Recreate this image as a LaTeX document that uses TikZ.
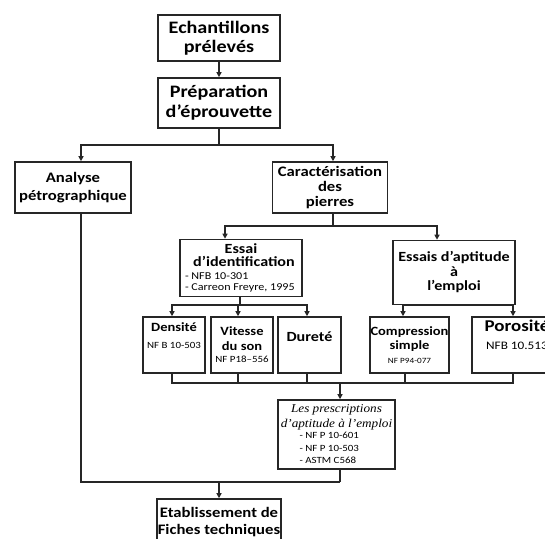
\documentclass[tikz,border=0pt]{standalone}
\usepackage{fontspec}
\setmainfont{Carlito}[FakeStretch=1.15]
\newfontfamily\tnr{Liberation Serif}[FakeStretch=1.1]
\usetikzlibrary{arrows.meta}
\begin{document}
\begin{tikzpicture}[x=1pt,y=-1pt,
  box/.style={draw=black!85, line width=1.6pt, rectangle, inner sep=0pt, align=center},
  con/.style={draw=black!85, line width=1.2pt},
  arr/.style={con, -{Triangle[width=5pt,length=5pt]}},
  fs/.style n args={2}{font=\fontsize{#1}{#2}\selectfont\bfseries},
]
\useasboundingbox (0,0) rectangle (545,538);

\node[box, minimum width=122pt, minimum height=46pt, fs={17.5}{19}] (n1) at (219,38)
  {Echantillons\\prélevés};
\node[box, minimum width=122pt, minimum height=50pt, fs={17.5}{20}] (n2) at (219,103)
  {Préparation\\d’éprouvette};
\node[box, minimum width=116pt, minimum height=51pt, fs={14.5}{18}] (ana) at (73,187.5)
  {Analyse\\pétrographique};
\node[box, minimum width=115pt, minimum height=51pt, fs={14.5}{15}] (car) at (330,187.5)
  {Caractérisation\\des\\pierres};
\node[box, minimum width=122pt, minimum height=57pt, fs={14}{13}] (ess) at (241,268)
  {Essai\\
   \hspace*{6pt}d’identification\\
   {\fontsize{10.5}{10.5}\selectfont\mdseries\makebox[112pt][l]{- NFB 10-301}}\\[-2.5pt]
   {\fontsize{10.5}{10.5}\selectfont\mdseries\makebox[112pt][l]{- Carreon Freyre, 1995}}};
\node[box, minimum width=122pt, minimum height=64pt, fs={14}{14.5}] (apt) at (454,272.5)
  {Essais d’aptitude\\à\\l’emploi};

\node[box, minimum width=62pt, minimum height=56pt, fs={12.6}{15}] (den) at (174,345)
  {Densité\\[2pt] {\fontsize{9.5}{9.5}\selectfont\mdseries NF B 10-503}\\[4pt]};
\node[box, minimum width=62pt, minimum height=56pt, fs={12.6}{14.5}] (vit) at (242,345)
  {Vitesse\\du son\\[-2pt] {\fontsize{9.5}{9.5}\selectfont\mdseries NF P18–556}};
\node[box, minimum width=63pt, minimum height=56pt, fs={14}{15}] (dur) at (309.5,345)
  {Dureté\\[2pt]};
\node[box, minimum width=79pt, minimum height=56pt, fs={12.6}{14.5}] (com) at (409.5,345)
  {Compression\\simple\\[-1pt] {\fontsize{8}{8}\selectfont\mdseries NF P94-077}};
\node[box, minimum width=90pt, minimum height=56pt, fs={16.5}{17}] (por) at (517,345)
  {Porosité\\[1pt] {\fontsize{11.5}{11.5}\selectfont\mdseries NFB 10.513}\\[4pt]};

\node[box, minimum width=117pt, minimum height=69pt, font=\fontsize{12}{14.5}\selectfont\tnr\itshape] (pre) at (336.5,434.5)
  {Les prescriptions\\
   d’aptitude à l’emploi\\[-3pt]
   {\fontsize{9.5}{9.5}\selectfont\upshape\rmfamily\hspace*{-16pt}\makebox[58pt][l]{- NF P 10-601}}\\[-2pt]
   {\fontsize{9.5}{9.5}\selectfont\upshape\rmfamily\hspace*{-16pt}\makebox[58pt][l]{- NF P 10-503}}\\[-2pt]
   {\fontsize{9.5}{9.5}\selectfont\upshape\rmfamily\hspace*{-16pt}\makebox[58pt][l]{- ASTM C568}}};

\node[box, minimum width=124pt, minimum height=46pt, fs={14.5}{17}] (eta) at (219,522)
  {Etablissement de\\Fiches techniques};

% connectors
\draw[arr] (n1) -- (n2);
\coordinate (j1) at (219,145);
\draw[con] (n2.south) -- (j1);
\draw[arr] (j1) -| ([xshift=8pt]ana.north);
\draw[arr] (j1) -| ([xshift=3pt]car.north);

\coordinate (j2) at (333,226);
\draw[con] ([xshift=3pt]car.south) -- (j2);
\draw[arr] (j2) -| ([xshift=-16pt]ess.north);
\draw[arr] (j2) -| ([xshift=-17pt]apt.north);

\coordinate (j3) at (240,305);
\draw[con] ([xshift=-1pt]ess.south) -- (j3);
\draw[arr] (j3) -| ([xshift=-2pt]den.north);
\draw[arr] (j3) -| ([xshift=-4pt]vit.north);
\draw[arr] (j3) -| ([xshift=-2.5pt]dur.north);

\coordinate (j4) at (456,305);
\draw[con] ([xshift=2pt]apt.south) -- (j4);
\draw[arr] (j4) -| ([xshift=-6.5pt]com.north);
\draw[arr] (j4) -| ([xshift=-4pt]por.north);

\coordinate (j5) at (340,383);
\draw[con] ([xshift=-2pt]den.south) |- (j5);
\draw[con] ([xshift=-4pt]vit.south) |- (j5);
\draw[con] ([xshift=-2.5pt]dur.south) |- (j5);
\draw[con] ([xshift=-4.5pt]com.south) |- (j5);
\draw[con] ([xshift=-4pt]por.south) |- (j5);
\draw[arr] (j5) -- ([xshift=3.5pt]pre.north);

\coordinate (j6) at (340,482);
\draw[con] ([xshift=3.5pt]pre.south) -- (j6);
\draw[con] ([xshift=8pt]ana.south) |- (j6);
\draw[arr] (eta.north |- j6) -- (eta.north);
\end{tikzpicture}
\end{document}
